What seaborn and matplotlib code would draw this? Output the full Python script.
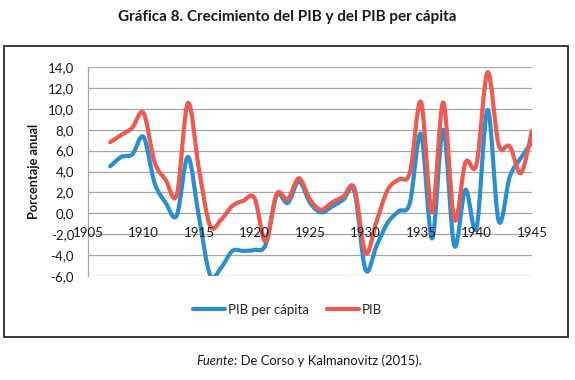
import numpy as np
import pandas as pd
import matplotlib
matplotlib.use("Agg")
import matplotlib.pyplot as plt
from matplotlib.path import Path
from matplotlib.patches import PathPatch, Rectangle
from matplotlib.lines import Line2D
from matplotlib.ticker import FuncFormatter
import seaborn as sns

years = list(range(1907, 1946))
pib_pc = [4.5, 5.4, 5.65, 7.3, 2.9, 1.0, -0.2, 5.4, -0.4, -5.9,
          -5.2, -3.6, -3.6, -3.5, -3.0, 1.7, 1.0, 3.05, 1.0, 0.1,
          0.65, 1.3, 2.1, -5.4, -3.1, -0.9, 0.2, 1.0, 7.6, -2.4,
          8.0, -3.1, 2.25, -1.4, 9.9, -0.75, 3.5, 5.3, 6.8]
pib = [6.8, 7.5, 8.2, 9.6, 4.9, 3.2, 1.8, 10.55, 4.2, -1.2,
       -0.6, 0.7, 1.2, 1.45, -2.7, 1.85, 1.35, 3.35, 1.3, 0.35,
       1.05, 1.6, 2.4, -3.8, -0.75, 2.25, 3.25, 3.9, 10.65, 0.1,
       10.6, -0.6, 4.85, 4.7, 13.5, 6.55, 6.4, 3.85, 7.9]
series_names = ["PIB per cápita", "PIB"]
y_ticks = list(range(-6, 15, 2))
x_ticks = list(range(1905, 1946, 5))

df = pd.DataFrame({"year": years * 2,
                   "valor": pib_pc + pib,
                   "serie": [series_names[0]] * len(years) + [series_names[1]] * len(years)})

colors = {"PIB per cápita": "#2b8fcf", "PIB": "#ec5a50"}

sns.set_theme(style="white")
plt.rcParams['font.family'] = ['Lato', 'DejaVu Sans']


def smooth_path(x, y):
    # Excel-like smoothed line: Catmull-Rom -> cubic Bezier segments
    p = np.column_stack([x, y]).astype(float)
    pts = [p[0]]
    codes = [Path.MOVETO]
    n = len(p)
    for i in range(n - 1):
        p0 = p[i - 1] if i > 0 else p[i]
        p3 = p[i + 2] if i + 2 < n else p[i + 1]
        c1 = p[i] + (p[i + 1] - p0) / 6
        c2 = p[i + 1] - (p3 - p[i]) / 6
        pts += [c1, c2, p[i + 1]]
        codes += [Path.CURVE4] * 3
    return Path(pts, codes)


fig = plt.figure(figsize=(5.75, 3.8), dpi=100)
ax = fig.add_axes([88 / 575, 1 - 276 / 380, (532 - 88) / 575, (276 - 67) / 380])
ax.set_facecolor("white")
ax.set_axisbelow(False)  # tick labels drawn over the lines, like Excel

# gridlines drawn by hand so they stay under the series
for v in y_ticks:
    ax.axhline(v, color="#a6a6a6", lw=0.9, zorder=1)

for name in series_names:
    d = df[df["serie"] == name]
    ax.add_patch(PathPatch(smooth_path(d["year"], d["valor"]), facecolor="none",
                           edgecolor=colors[name], lw=3.0, capstyle="round",
                           joinstyle="round", zorder=2))

ax.set_xlim(1905, 1945)
ax.set_ylim(-6, 14)
ax.set_yticks(y_ticks)
ax.set_xticks(x_ticks)
ax.yaxis.set_major_formatter(FuncFormatter(lambda v, _: f"{v:.1f}".replace(".", ",")))
ax.grid(False)
for s in ["top", "right"]:
    ax.spines[s].set_visible(False)
ax.spines["left"].set_color("#a6a6a6")
ax.spines["left"].set_linewidth(0.9)
ax.spines["left"].set_zorder(1)
ax.spines["bottom"].set_position(("data", 0))
ax.spines["bottom"].set_visible(False)
ax.tick_params(axis="x", length=0, pad=10, labelsize=9.5, labelcolor="#1a1a1a")
ax.tick_params(axis="y", length=0, pad=10, labelsize=9.5, labelcolor="#1a1a1a")
ax.set_xlabel("")
ax.set_ylabel("Porcentaje anual", fontsize=9.2, fontweight="bold", color="#1a1a1a")
ax.yaxis.set_label_coords(-0.108, 0.5)

handles = [Line2D([], [], color=colors[n], lw=3) for n in series_names]
fig.legend(handles, series_names, loc="center", bbox_to_anchor=(0.5, 1 - 310 / 380),
           ncol=2, frameon=False, fontsize=9.5, handlelength=2.4, handletextpad=0.2,
           columnspacing=1.4)

fig.add_artist(Rectangle((4 / 575, 1 - 337 / 380), 564 / 575, (337 - 46) / 380,
                         transform=fig.transFigure, fill=False, edgecolor="#3a3a3a", lw=1.4))

fig.text(0.5, 1 - 17 / 380, "Gráfica 8. Crecimiento del PIB y del PIB per cápita",
         ha="center", va="center", fontsize=11, fontweight="bold", color="#1a1a1a")
fig.text(234 / 575, 1 - 361 / 380, "Fuente", style="italic", ha="right", va="center",
         fontsize=9.4, color="#1a1a1a")
fig.text(234 / 575, 1 - 361 / 380, ": De Corso y Kalmanovitz (2015).", ha="left",
         va="center", fontsize=9.4, color="#1a1a1a")

fig.savefig("out.png", dpi=100, facecolor="white")
